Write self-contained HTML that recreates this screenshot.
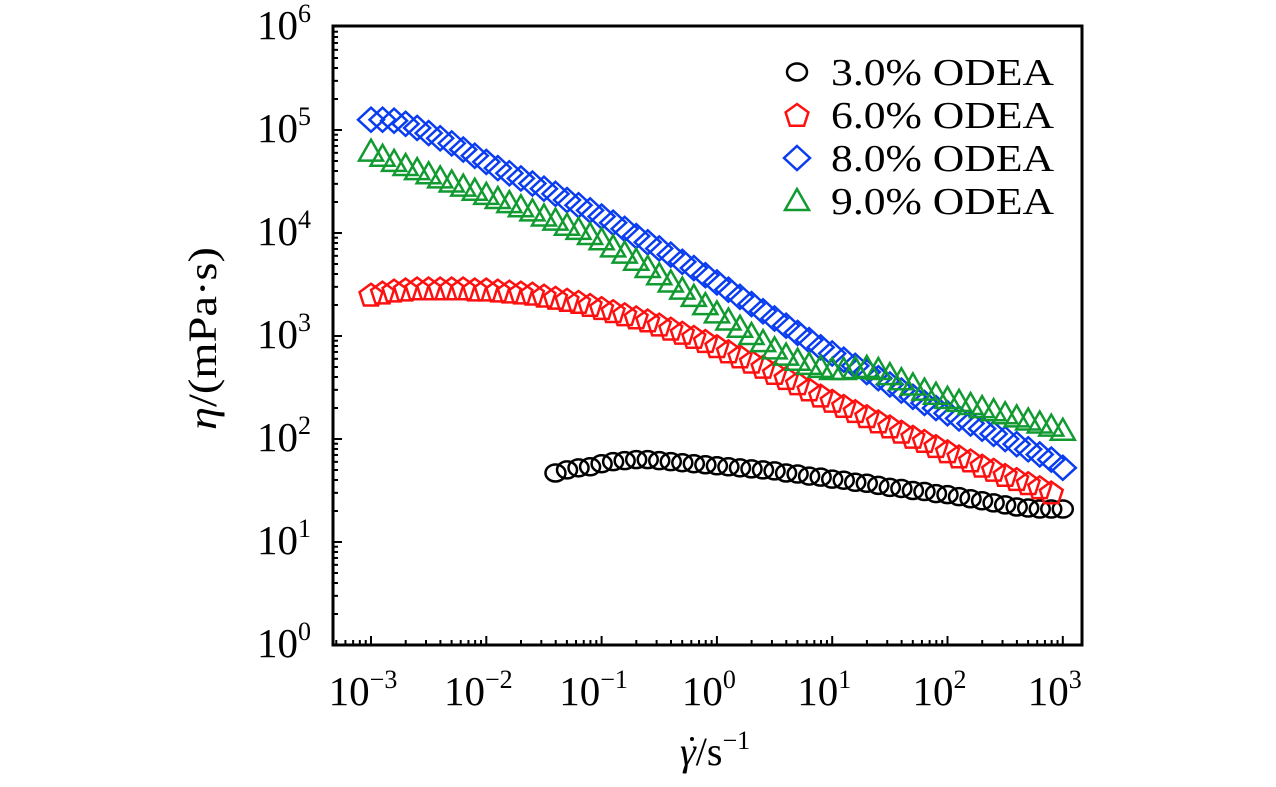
<!DOCTYPE html>
<html><head><meta charset="utf-8"><style>
html,body{margin:0;padding:0;background:#fff;}
svg{display:block;font-family:"Liberation Serif",serif;}
</style></head><body>
<svg id="chart" width="1276" height="787" viewBox="0 0 1276 787">
<g id="axes"></g>
<g id="series"></g>
<g id="legend"></g>
<text x="0" y="0" font-size="40" transform="translate(216 430) rotate(-90)" textLength="183" lengthAdjust="spacingAndGlyphs"><tspan font-style="italic">η</tspan>/(mPa·s)</text>
<g>
<text x="680" y="765" font-size="40"><tspan font-style="italic">γ</tspan>/s<tspan dy="-16" font-size="26">−1</tspan></text>
<circle cx="692" cy="739" r="2" fill="#000"/>
</g>
</svg>
<script>
const xTickExps = [-3,-2,-1,0,1,2,3];
const yTickExps = [0,1,2,3,4,5,6];
const seriesNames = ["3.0% ODEA","6.0% ODEA","8.0% ODEA","9.0% ODEA"];
const blackStart = -1.4;
const blackLogY = [1.67,1.70,1.72,1.73,1.76,1.78,1.79,1.80,1.80,1.79,1.78,1.77,1.76,1.75,1.74,1.73,1.72,1.71,1.70,1.69,1.67,1.66,1.64,1.63,1.61,1.60,1.58,1.57,1.55,1.53,1.52,1.50,1.49,1.47,1.46,1.44,1.42,1.40,1.38,1.36,1.34,1.33,1.32,1.32,1.32];
const redStart = -3;
const redLogY = [3.40,3.42,3.44,3.45,3.46,3.46,3.46,3.46,3.46,3.45,3.45,3.44,3.43,3.42,3.41,3.39,3.37,3.35,3.33,3.30,3.27,3.24,3.21,3.18,3.15,3.11,3.07,3.03,2.99,2.95,2.90,2.85,2.80,2.75,2.70,2.64,2.59,2.54,2.48,2.42,2.37,2.32,2.27,2.22,2.17,2.12,2.07,2.02,1.98,1.93,1.88,1.83,1.79,1.74,1.70,1.65,1.61,1.57,1.53,1.48];
const blueStart = -3;
const blueLogY = [5.10,5.10,5.09,5.06,5.02,4.97,4.92,4.87,4.81,4.75,4.69,4.63,4.58,4.53,4.48,4.43,4.38,4.32,4.27,4.22,4.16,4.10,4.04,3.97,3.91,3.85,3.79,3.72,3.66,3.59,3.52,3.45,3.38,3.31,3.24,3.17,3.10,3.03,2.96,2.89,2.83,2.77,2.71,2.65,2.59,2.53,2.47,2.41,2.35,2.30,2.25,2.20,2.15,2.10,2.05,2.00,1.95,1.90,1.85,1.80,1.72];
const greenStart = -3;
const greenLogY = [4.79,4.74,4.69,4.65,4.61,4.57,4.53,4.49,4.45,4.41,4.37,4.33,4.29,4.25,4.21,4.16,4.12,4.07,4.03,3.98,3.93,3.86,3.80,3.73,3.66,3.59,3.52,3.45,3.38,3.30,3.22,3.15,3.08,3.01,2.94,2.87,2.81,2.76,2.72,2.69,2.67,2.67,2.68,2.69,2.67,2.62,2.57,2.52,2.47,2.43,2.39,2.36,2.33,2.30,2.27,2.24,2.21,2.18,2.15,2.12,2.08];

const NS="http://www.w3.org/2000/svg";
const L=333,R=1082,T=26,B=645;
function xPos(e){return 371+(e+3)*115.3;}
function yPos(e){return 645-e*103;}
function mk(tag,attrs,parent){const el=document.createElementNS(NS,tag);for(const k in attrs)el.setAttribute(k,attrs[k]);parent.appendChild(el);return el;}
const axes=document.getElementById('axes');
const frame=mk('rect',{x:L,y:T,width:R-L,height:B-T,fill:'none',stroke:'#000','stroke-width':3},axes);


for(let d=-4;d<=3;d++){for(let m=1;m<10;m++){const e=d+Math.log10(m);const x=xPos(e);if(x<L+2||x>R-2)continue;const len=m===1?9:5;
 const t=mk('line',{x1:x,x2:x,y1:B,y2:B-len,stroke:'#000','stroke-width':2},axes);
 
 }}
xTickExps.forEach(e=>{const tx=mk('text',{x:xPos(e)-8,y:705,'font-size':41,'text-anchor':'middle'},axes);
 tx.innerHTML='10<tspan dy="-17" font-size="26">'+(e<0?'−'+(-e):e)+'</tspan>';
 
 });
for(let d=0;d<6;d++){for(let m=1;m<10;m++){const y=yPos(d+Math.log10(m));const len=m===1?9:5;
 const t=mk('line',{x1:L,x2:L+len,y1:y,y2:y,stroke:'#000','stroke-width':2},axes);
 
 }}
yTickExps.forEach(e=>{const tx=mk('text',{x:257,y:yPos(e)+12,'font-size':41},axes);
 tx.innerHTML='10<tspan dy="-17" font-size="26">'+e+'</tspan>';
 
 });

function marker(type,cx,cy,color,parent){let el;
 if(type==='circle')el=mk('ellipse',{cx:cx,cy:cy,rx:10,ry:8.5},parent);
 else if(type==='pent'){const p=[];for(let i=0;i<5;i++){const a=-Math.PI/2+i*2*Math.PI/5;p.push((cx+12*Math.cos(a)).toFixed(1)+','+(cy+1+12*Math.sin(a)).toFixed(1));}el=mk('polygon',{points:p.join(' ')},parent);}
 else if(type==='diam')el=mk('polygon',{points:`${cx},${cy-12} ${cx+13},${cy} ${cx},${cy+12} ${cx-13},${cy}`},parent);
 else el=mk('polygon',{points:`${cx},${cy-12} ${cx+12},${cy+9} ${cx-12},${cy+9}`},parent);
 el.setAttribute('fill','none');el.setAttribute('stroke',color);el.setAttribute('stroke-width',2.5);return el;}
const defs=[[blackStart,blackLogY,'circle','#000'],[redStart,redLogY,'pent','#ff1010'],[blueStart,blueLogY,'diam','#0a3cf0'],[greenStart,greenLogY,'tri','#109a30']];
const sg=document.getElementById('series');
defs.forEach((s,si)=>{const g=mk('g',{},sg);
 
 
 s[1].forEach((v,i)=>{const el=marker(s[2],xPos(s[0]+i*0.1),yPos(v),s[3],g);
  
  });});
const lg=document.getElementById('legend');
defs.forEach((s,i)=>{const cy=72+i*43;
 const m=marker(s[2],797,cy,s[3],lg);
 
 
 const t=mk('text',{x:831,y:cy+13,'font-size':38,textLength:223,lengthAdjust:'spacingAndGlyphs'},lg);t.textContent=seriesNames[i];
 
 });
</script>
</body></html>
